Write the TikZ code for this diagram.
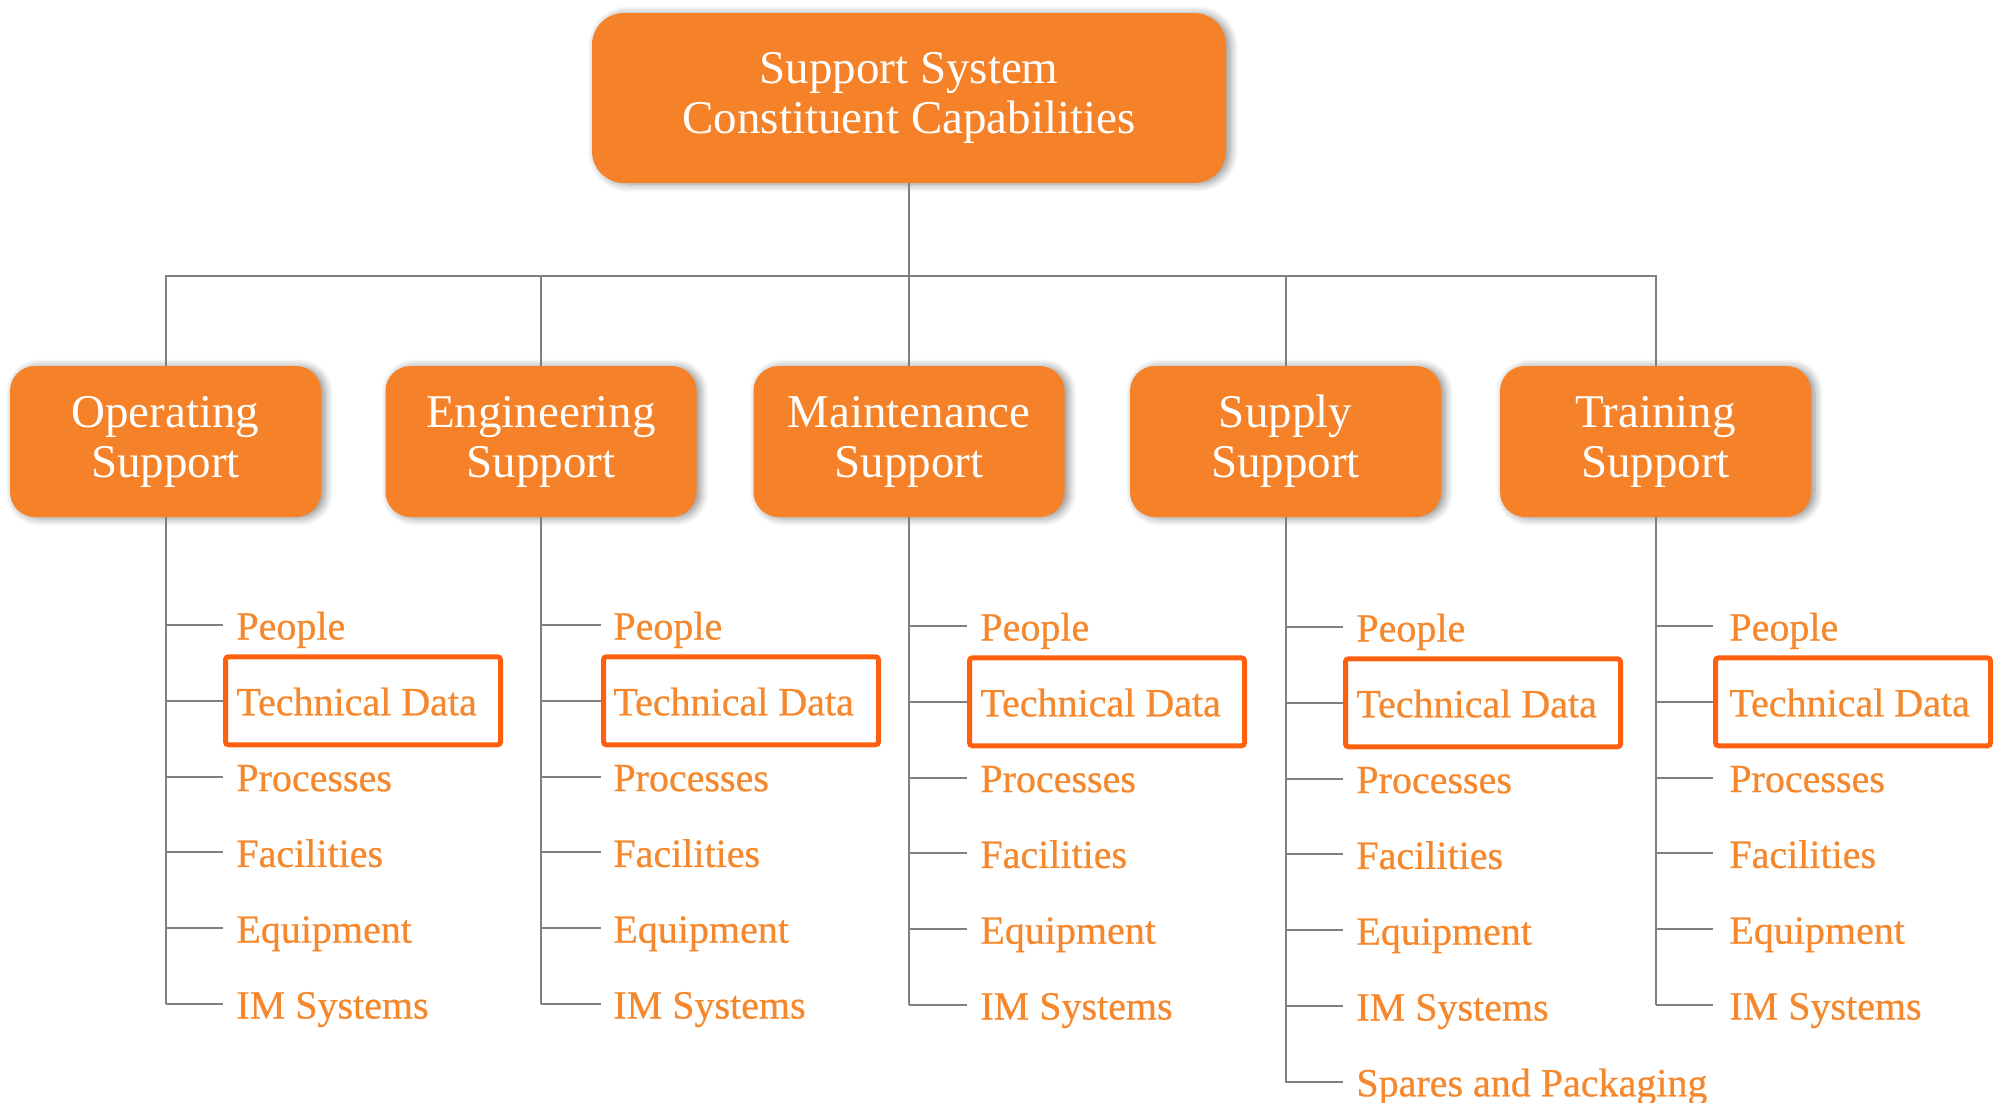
\documentclass[tikz,border=0pt]{standalone}
\usepackage{fontspec}
\setmainfont{Liberation Serif}
\newfontfamily\leaffont[FakeBold=0.6]{Liberation Serif}
\usetikzlibrary{shadows.blur}
\definecolor{boxorange}{RGB}{245,130,40}
\definecolor{leaforange}{RGB}{245,135,45}
\definecolor{techred}{RGB}{255,96,16}
\definecolor{linegray}{RGB}{128,128,128}
\tikzset{
  mainbox/.style={fill=boxorange, text=white, align=center,
    font=\fontsize{23.5}{25}\selectfont, inner sep=0pt,
    blur shadow={shadow xshift=2pt, shadow yshift=-0.5pt, shadow blur radius=4pt, shadow blur steps=8, shadow opacity=45}},
  topbox/.style={mainbox, minimum width=317pt, minimum height=85pt, rounded corners=16pt},
  midbox/.style={mainbox, minimum width=155.5pt, minimum height=75.5pt, rounded corners=12.5pt},
  leaf/.style={text=leaforange, font=\leaffont\fontsize{20}{24}\selectfont, anchor=base west, inner sep=0pt},
  techbox/.style={draw=techred, line width=2.5pt, rounded corners=1.5pt, minimum width=137.5pt, minimum height=44pt, anchor=west, inner sep=0pt},
  conn/.style={draw=linegray, line width=1pt}
}
\begin{document}
\begin{tikzpicture}[x=0.5pt,y=-0.5pt]
\useasboundingbox (0,0) rectangle (1993,1103);
% top box
\node[topbox] (top) at (909,98) {Support System\\Constituent Capabilities};
% second level
\node[midbox] (b1) at (165.5,441.5) {Operating\\Support};
\node[midbox] (b2) at (541,441.5) {Engineering\\Support};
\node[midbox] (b3) at (909,441.5) {Maintenance\\Support};
\node[midbox] (b4) at (1285.5,441.5) {Supply\\Support};
\node[midbox] (b5) at (1655.5,441.5) {Training\\Support};
% bus
\coordinate (bus) at (909,276);
\draw[conn] (top.south) -- (bus);
\draw[conn] (b1.north) |- (bus) -| (b5.north);
\draw[conn] (b2.north) -- (b2.north |- bus);
\draw[conn] (b3.north) -- (b3.north |- bus);
\draw[conn] (b4.north) -- (b4.north |- bus);
% leaves
\foreach \c/\E/\T/\dy in {1/223/236/0, 2/601/613/0, 3/967/980/1, 4/1343/1356/2, 5/1713/1729/1}{
  \foreach \lab [count=\i] in {People, Technical Data, Processes, Facilities, Equipment, IM Systems}{
    \pgfmathsetmacro\yy{625+\dy+(\i-1)*75.8}
    \coordinate (t\c-\i) at (b\c.south |- 0,\yy);
    \coordinate (e\c-\i) at (\E,\yy);
    \node[leaf] (l\c-\i) at (\T,\yy+14.5) {\lab};
    \draw[conn] (t\c-\i) -- (e\c-\i);
  }
  \node[techbox] (tb\c) at (e\c-2) {};
  \draw[conn] (b\c.south) -- (t\c-6);
}
% extra item in Supply Support
\coordinate (t4-7) at (b4.south |- 0,1081.8);
\coordinate (e4-7) at (1343,1081.8);
\node[leaf] (l4-7) at (1356,1096.3) {Spares and Packaging};
\draw[conn] (t4-6) -- (t4-7) -- (e4-7);
\end{tikzpicture}
\end{document}
